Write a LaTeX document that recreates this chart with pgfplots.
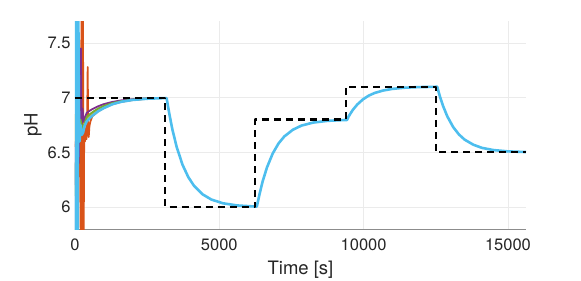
\documentclass[border=0pt]{standalone}
\usepackage{fontspec}
\setmainfont{TeX Gyre Heros}
\usepackage{pgfplots}
\pgfplotsset{compat=1.18}

% MATLAB default line colours
\definecolor{mblue}{rgb}{0,0.447,0.741}
\definecolor{morange}{rgb}{0.85,0.325,0.098}
\definecolor{myellow}{rgb}{0.929,0.694,0.125}
\definecolor{mpurple}{rgb}{0.494,0.184,0.556}
\definecolor{mgreen}{rgb}{0.466,0.674,0.188}
\definecolor{mcyan}{rgb}{0.301,0.745,0.933}
\definecolor{axgray}{rgb}{0.55,0.55,0.55}
\definecolor{txtgray}{rgb}{0.15,0.15,0.15}
\definecolor{gridgray}{rgb}{0.92,0.92,0.92}

\begin{document}
\begin{tikzpicture}[x=1pt,y=1pt]
\begin{axis}[
  name=ax,
  at={(0,0)}, anchor=south west,
  scale only axis,
  width=451pt, height=208pt,
  xmin=0, xmax=15625,
  ymin=5.8, ymax=7.7,
  axis x line*=bottom, axis y line*=left,
  axis line style={axgray, line width=0.6pt, -},
  xtick={0,5000,10000,15000},
  ytick={6,6.5,7,7.5},
  major tick length=0pt,
  scaled ticks=false,
  /pgf/number format/1000 sep={},
  /pgf/number format/assume math mode=true,
  ticklabel style={font=\fontsize{16.5}{18}\selectfont, text=txtgray},
  xticklabel style={yshift=-6pt},
  yticklabel style={xshift=-1pt},
  grid=major,
  major grid style={gridgray, line width=0.6pt},
  xlabel={Time [s]},
  ylabel={pH},
  label style={font=\fontsize{18.5}{20}\selectfont, text=txtgray},
  xlabel style={at={(axis description cs:0.5,-0.197)}, anchor=center},
  ylabel style={at={(axis description cs:-0.0931,0.5)}, anchor=center},
  every axis plot/.append style={line join=round},
]
% start-up transients of the individual runs
\addplot[mblue, line width=1.8pt] coordinates {
(0,6.4)(25,5.7)(50,6.9)(70,5.7)(100,6.6)(130,6.5)(170,6.8)(220,6.7)(300,6.72)
(400,6.81)(500,6.84)(600,6.862)(800,6.897)(1000,6.922)(1300,6.950)(1600,6.967)
(2000,6.982)(2500,6.991)};
\addplot[morange, line width=1.8pt] coordinates {
(0,6.55)(60,6.6)(120,6.3)(170,6.5)(200,5.7)(225,7.8)(250,5.7)(275,7.8)(300,5.7)
(320,6.75)(345,6.6)(370,6.72)(395,6.62)(420,6.78)(440,7.28)(455,6.7)(475,6.64)
(500,6.74)(530,6.78)(600,6.83)(800,6.875)(1000,6.905)(1300,6.940)(1600,6.961)
(2000,6.978)(2500,6.99)};
\addplot[myellow, line width=1.8pt] coordinates {
(0,6.85)(20,6.55)(45,6.95)(80,6.6)(120,6.8)(180,6.7)(260,6.74)(400,6.80)
(500,6.83)(600,6.855)(800,6.890)(1000,6.918)(1300,6.948)(1600,6.966)(2000,6.981)
(2500,6.991)};
\addplot[mpurple, line width=1.8pt] coordinates {
(0,6.2)(30,6.6)(60,6.1)(90,6.9)(130,6.4)(170,7.1)(205,7.45)(230,6.7)(260,6.9)
(300,6.78)(400,6.86)(500,6.879)(600,6.895)(800,6.921)(1000,6.941)(1300,6.961)
(1600,6.975)(2000,6.986)(2500,6.993)};
\addplot[mgreen, line width=1.8pt] coordinates {
(0,6.1)(40,6.5)(70,6.0)(95,5.9)(110,6.85)(140,6.6)(190,6.8)(260,6.72)(330,6.76)
(400,6.82)(500,6.845)(600,6.866)(800,6.900)(1000,6.925)(1300,6.951)(1600,6.968)
(2000,6.982)(2500,6.992)};
% full closed-loop response
\addplot[mcyan, line width=2.6pt] coordinates {
(0,6.7)(15,5.7)(35,7.8)(55,5.7)(75,7.8)(95,5.7)(115,7.8)(135,6.9)(160,6.6)
(190,6.75)(230,6.66)(280,6.68)(330,6.74)(400,6.78)(500,6.81)(600,6.835)
(800,6.875)(1000,6.905)(1300,6.940)(1600,6.962)(2000,6.979)(2500,6.990)
(3125,6.996)(3175,6.995)(3225,6.917)(3275,6.842)(3375,6.708)(3525,6.547)
(3725,6.387)(3925,6.274)(4125,6.194)(4425,6.116)(4725,6.069)(5125,6.035)
(5625,6.015)(6250,6.005)(6300,6.005)(6350,6.066)(6400,6.126)(6500,6.234)
(6650,6.362)(6850,6.490)(7050,6.581)(7250,6.645)(7550,6.707)(7850,6.745)
(8250,6.772)(8750,6.788)(9375,6.796)(9425,6.796)(9475,6.825)(9525,6.847)
(9625,6.888)(9775,6.936)(9975,6.984)(10175,7.018)(10375,7.042)(10675,7.065)
(10975,7.079)(11375,7.090)(11875,7.096)(12500,7.099)(12550,7.099)(12600,7.050)
(12650,7.005)(12750,6.925)(12900,6.828)(13100,6.732)(13300,6.664)(13500,6.616)
(13800,6.570)(14100,6.541)(14500,6.521)(15000,6.509)(15625,6.503)};
% set-point
\addplot[black, line width=2.1pt, dash pattern=on 7pt off 5pt] coordinates {
(0,7)(3125,7)(3125,6)(6250,6)(6250,6.8)(9375,6.8)(9375,7.1)(12500,7.1)
(12500,6.5)(15625,6.5)};
\end{axis}
\pgfresetboundingbox
\path[use as bounding box] (ax.south west) ++(-75pt,-52pt) rectangle ++(581pt,281pt);
\end{tikzpicture}
\end{document}
